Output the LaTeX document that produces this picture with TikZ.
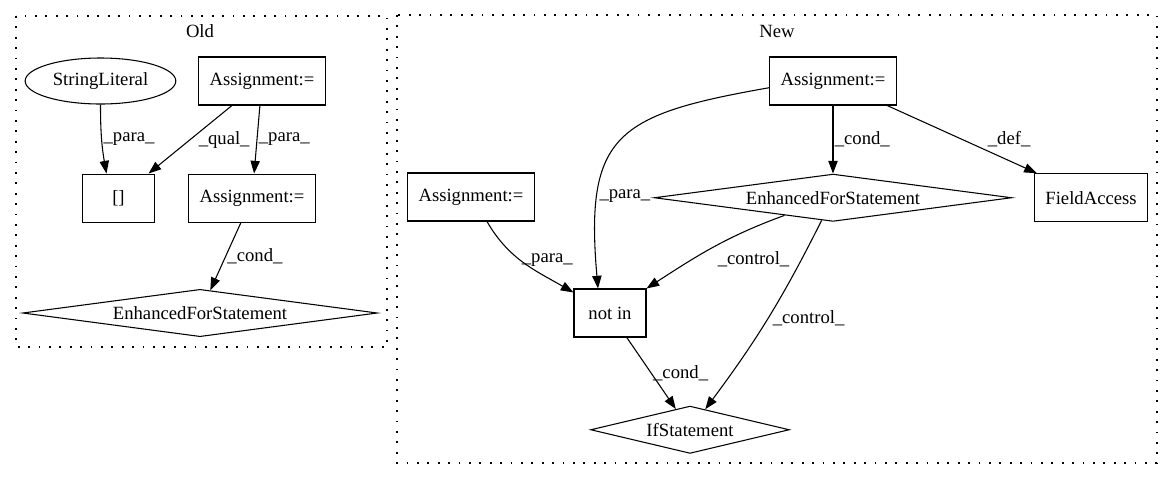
\documentclass[tikz,border=0pt]{standalone}
\usepackage{fontspec}
\setmainfont{Liberation Serif}
\usetikzlibrary{arrows.meta, positioning, shapes.geometric, calc}
\newcommand{\Role}[1]{\_#1\_}
\tikzset{
    box/.style={draw, rectangle, minimum width=54pt, minimum height=36pt, inner xsep=8pt, inner ysep=0pt},
    lit/.style={draw, ellipse, minimum width=113pt, minimum height=34.5pt, inner sep=0pt},
    dia/.style={draw, diamond, aspect=6, minimum height=35.5pt, inner sep=0pt},
    lbl/.style={inner sep=1pt},
    group/.style={dash pattern=on 1.3pt off 6.5pt, line width=0.9pt},
}

\begin{document}
\begin{tikzpicture}[x=0.75pt, y=-0.75pt, font=\fontsize{14}{16}\selectfont, line width=0.8pt, >={Triangle[length=9.5pt, width=7pt]}]
    \tikzset{
      node distance=51pt and 16.5pt
    }

    \useasboundingbox (0,0) rectangle (1167,480);
    \draw[group] (16,16) rectangle (387,347);
    \draw[group] (397,15) rectangle (1157,463);
    \node (t0) at (200,31) {Old};
    \node (t1) at (777,31) {New};

    \node[box] (o1) at (262,81) {Assignment:=};
    \node[lit, left=of o1] (o0) {StringLiteral};
    \node[box, below=of o1, xshift=-7.5pt] (o3) {Assignment:=};
    \node[box, left=25pt of o3] (o2) {[]};
    \node[dia, minimum width=266pt] (o4) at (200,313) {EnhancedForStatement};
    \draw (o0.south) edge[->, out=-90, in=100] node[lbl, anchor=west] {\Role{para}} ([xshift=-9pt]o2.north);
    \draw (o1) edge[->] node[lbl, anchor=west, xshift=5pt] {\Role{qual}} (o2);
    \draw (o1) edge[->] node[lbl, anchor=west] {\Role{para}} (o3);
    \draw (o3) edge[->] node[lbl, anchor=west] {\Role{cond}} (o4);

    \node[box] (n0) at (833,81) {Assignment:=};
    \node[dia, minimum width=268pt, below=of n0] (n2) {EnhancedForStatement};
    \node[box, right=of n2] (n3) {FieldAccess};
    \node[box] (n1) at (471,197) {Assignment:=};
    \node[box] (n4) at (610,313) {not in};
    \node[dia, minimum width=149pt, below=of n4, xshift=60pt] (n5) {IfStatement};

    \draw ([yshift=-5pt]n0.west) edge[->, out=190, in=95, looseness=1.5] node[lbl, pos=0.75, anchor=west] {\Role{para}} ([xshift=-9pt]n4.north);
    \draw (n0) edge[->] node[lbl, anchor=west] {\Role{cond}} (n2);
    \draw (n0) edge[->] node[lbl, anchor=west, xshift=18pt] {\Role{def}} (n3);
    \draw ([xshift=12pt]n1.south) edge[->, out=-60, in=150] node[lbl, pos=0.45, anchor=west] {\Role{para}} ([yshift=-3pt]n4.north west);
    \draw (n2) edge[->, out=200, in=33] node[lbl, anchor=north west, inner sep=3pt] {\Role{control}} (n4.north east);
    \draw (n2) edge[->, bend left=5] node[lbl, anchor=west, inner sep=3pt] {\Role{control}} (n5);
    \draw (n4) edge[->] node[lbl, anchor=west] {\Role{cond}} (n5);

\end{tikzpicture}
\end{document}
